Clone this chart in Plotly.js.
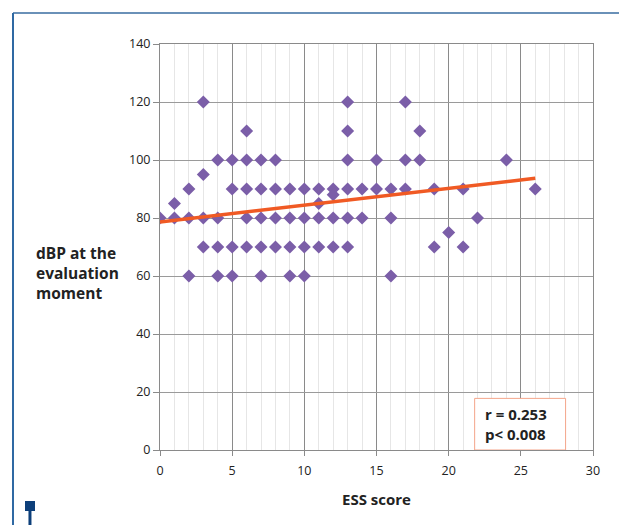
<!DOCTYPE html>
<html>
<head>
<meta charset="utf-8">
<script src="https://cdn.plot.ly/plotly-3.0.1.min.js"></script>
<style>html,body{margin:0;padding:0;background:#fff;}#chart{width:619px;height:525px;}</style>
</head>
<body>
<div id="chart"></div>
<script>
// ESS score (x) and diastolic BP at evaluation (y)
const essScore = [
  0,
  1, 1,
  2, 2, 2,
  3, 3, 3, 3,
  4, 4, 4, 4,
  5, 5, 5, 5,
  6, 6, 6, 6, 6,
  7, 7, 7, 7, 7,
  8, 8, 8, 8,
  9, 9, 9, 9,
  10, 10, 10, 10,
  11, 11, 11, 11,
  12, 12, 12, 12,
  13, 13, 13, 13, 13, 13,
  14, 14,
  15, 15,
  16, 16, 16,
  17, 17, 17,
  18, 18,
  19, 19,
  20,
  21, 21,
  22,
  24,
  26
];
const dbp = [
  80,
  85, 80,
  90, 80, 60,
  120, 95, 80, 70,
  100, 80, 70, 60,
  100, 90, 70, 60,
  110, 100, 90, 80, 70,
  100, 90, 80, 70, 60,
  100, 90, 80, 70,
  90, 80, 70, 60,
  90, 80, 70, 60,
  90, 85, 80, 70,
  90, 88, 80, 70,
  120, 110, 100, 90, 80, 70,
  90, 80,
  100, 90,
  90, 80, 60,
  120, 100, 90,
  110, 100,
  90, 70,
  75,
  90, 70,
  80,
  100,
  90
];
// regression line end points
const fitX = [0, 26];
const fitY = [78.6, 93.7];
const statsText = ["r = 0.253", "p< 0.008"];
const xTicks = [0, 5, 10, 15, 20, 25, 30];
const yTicks = [0, 20, 40, 60, 80, 100, 120, 140];

const FONT = "'Open Sans', 'Liberation Sans', sans-serif";

const traces = [
  {
    x: essScore, y: dbp, type: 'scatter', mode: 'markers',
    marker: {symbol: 'diamond', size: 10, color: '#7b5ea8'},
    hoverinfo: 'x+y', showlegend: false
  },
  {
    x: fitX, y: fitY, type: 'scatter', mode: 'lines',
    line: {color: '#f05a24', width: 3.5},
    hoverinfo: 'skip', showlegend: false
  }
];

const layout = {
  width: 619, height: 525,
  margin: {l: 160, r: 26, t: 44, b: 75},
  paper_bgcolor: '#ffffff', plot_bgcolor: '#ffffff',
  font: {family: FONT, size: 12, color: '#222'},
  xaxis: {
    range: [0, 30], tickvals: xTicks, ticktext: xTicks.map(String),
    showgrid: true, gridcolor: '#8a8a8a', gridwidth: 1,
    minor: {dtick: 1, showgrid: true, gridcolor: '#e6e6e6', gridwidth: 1},
    showline: true, linecolor: '#8a8a8a', linewidth: 1, mirror: true,
    ticks: 'outside', ticklen: 5, tickcolor: '#8a8a8a',
    ticklabelstandoff: 4,
    zeroline: false, fixedrange: true,
    tickfont: {family: FONT, size: 12.5, color: '#222'},
    title: {text: '<b>ESS score</b>', font: {family: FONT, size: 15, color: '#222'}, standoff: 16}
  },
  yaxis: {
    range: [0, 140], tickvals: yTicks, ticktext: yTicks.map(String),
    showgrid: true, gridcolor: '#9a9a9a', gridwidth: 1,
    showline: true, linecolor: '#8a8a8a', linewidth: 1, mirror: true,
    ticks: 'outside', ticklen: 6, tickcolor: '#8a8a8a',
    zeroline: false, fixedrange: true,
    tickfont: {family: FONT, size: 12.5, color: '#222'}
  },
  shapes: [
    // outer frame lines
    {type: 'line', xref: 'paper', yref: 'paper', x0: -0.3395, x1: 1.07, y0: 1.0764, y1: 1.0764,
     line: {color: '#6a91b8', width: 2}},
    {type: 'line', xref: 'paper', yref: 'paper', x0: -0.3395, x1: -0.3395, y0: 1.0764, y1: -0.19,
     line: {color: '#2f69a3', width: 2}},
    // small navy marker at bottom left
    {type: 'rect', xref: 'paper', yref: 'paper', x0: -0.3118, x1: -0.2887, y0: -0.1256, y1: -0.1502,
     fillcolor: '#0d3f7a', line: {width: 0}},
    {type: 'line', xref: 'paper', yref: 'paper', x0: -0.3003, x1: -0.3003, y0: -0.15, y1: -0.19,
     line: {color: '#0d3f7a', width: 3}},
    // stats box
    {type: 'rect', xref: 'x', yref: 'y', x0: 21.8, x1: 28.1, y0: 0, y1: 17.8,
     fillcolor: '#ffffff', line: {color: '#f4a58a', width: 1}, layer: 'above'}
  ],
  annotations: [
    {xref: 'paper', yref: 'paper', x: -0.2910, y: 0.436, xanchor: 'left', yanchor: 'middle',
     align: 'left', showarrow: false,
     text: '<b>dBP at the<br>evaluation<br>moment</b>',
     font: {family: FONT, size: 15.5, color: '#222'}},
    {xref: 'x', yref: 'y', x: 22.4, y: 8.9, xanchor: 'left', yanchor: 'middle',
     align: 'left', showarrow: false,
     text: '<b>' + statsText.join('<br>') + '</b>',
     font: {family: FONT, size: 15, color: '#222'}}
  ]
};

Plotly.newPlot('chart', traces, layout, {displayModeBar: false, staticPlot: true});
</script>
</body>
</html>
